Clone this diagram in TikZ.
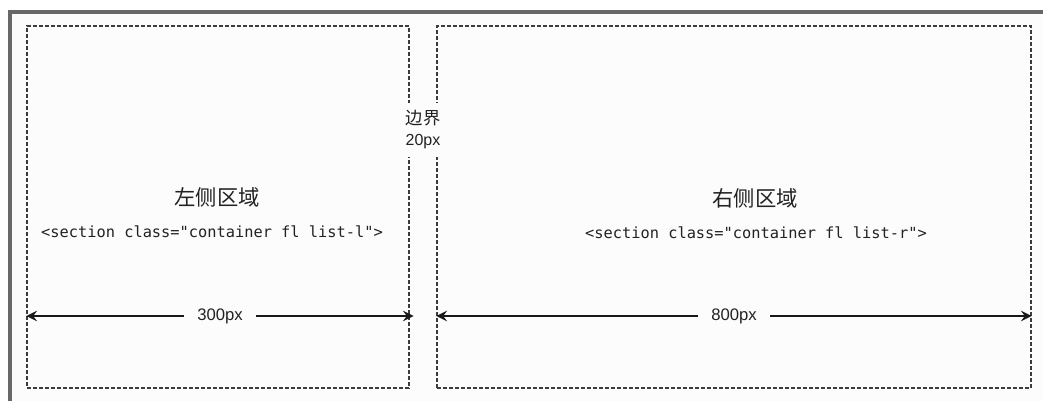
\documentclass[tikz,border=0pt]{standalone}
\definecolor{framegray}{RGB}{104,104,104}
\definecolor{pagebg}{RGB}{252,252,252}
\definecolor{dashgray}{RGB}{60,60,60}
\definecolor{inktext}{RGB}{34,34,34}
\usepackage{fontspec}
\setmainfont{Liberation Sans}
\setmonofont{DejaVu Sans Mono}
\newfontfamily\cjk{Noto Sans CJK SC}
\usepackage{tikz}
\usetikzlibrary{arrows.meta,positioning,calc}

\tikzset{
    area/.style={draw=dashgray, line width=0.8pt, dash pattern=on 3pt off 1.5pt, inner sep=0pt},
    areatitle/.style={text=inktext, font=\cjk\fontsize{16}{18}\selectfont},
    codeline/.style={text=inktext, font=\ttfamily\fontsize{11.5}{13}\selectfont},
    dimarrow/.style={draw=black!90, line width=1.1pt, {Stealth[length=8pt,width=8pt,inset=3pt]}-{Stealth[length=8pt,width=8pt,inset=3pt]}},
    dimlabel/.style={fill=pagebg, text=inktext, inner xsep=10pt, font=\fontsize{12.5}{14}\selectfont}
}

\begin{document}
\begin{tikzpicture}[x=0.75pt, y=-0.75pt]
            % page and frame
            \useasboundingbox (0,0) rectangle (1043,401);
            \fill[white] (0,0) rectangle (1043,401);
            \fill[pagebg] (12,14) rectangle (1043,401);
            \fill[framegray] (8,10) rectangle (1043,14);
            \fill[framegray] (8,10) rectangle (12,401);

            % the two areas
            \node[area, minimum width=286.5pt, minimum height=271.5pt] (leftarea) at (218,207) {};
            \node[area, minimum width=445.5pt, minimum height=271.5pt] (rightarea) at (734,207) {};

            \node[areatitle] (lefttitle) at (217,197) {左侧区域};
            \node[codeline] (leftcode) at (212,232) {<section class="container fl list-l">};
            \node[areatitle] (righttitle) at (755,198) {右侧区域};
            \node[codeline] (rightcode) at (756,233) {<section class="container fl list-r">};

            % gap between the areas
            \node[fill=pagebg, text=inktext, align=center, minimum width=30pt, minimum height=41pt,
                  inner sep=1pt, font=\fontsize{12}{15.75}\selectfont] (gap) at (423,130)
                  {{\cjk\fontsize{13}{15.75}\selectfont 边界}\\20px};

            % widths
            \coordinate (dimy) at (0,316);
            \draw[dimarrow] (leftarea.west |- dimy) -- ([xshift=3pt]leftarea.east |- dimy)
                node[midway, dimlabel] (leftwidth) {300px};
            \draw[dimarrow] (rightarea.west |- dimy) -- (rightarea.east |- dimy)
                node[midway, dimlabel] (rightwidth) {800px};
        \end{tikzpicture}
\end{document}
